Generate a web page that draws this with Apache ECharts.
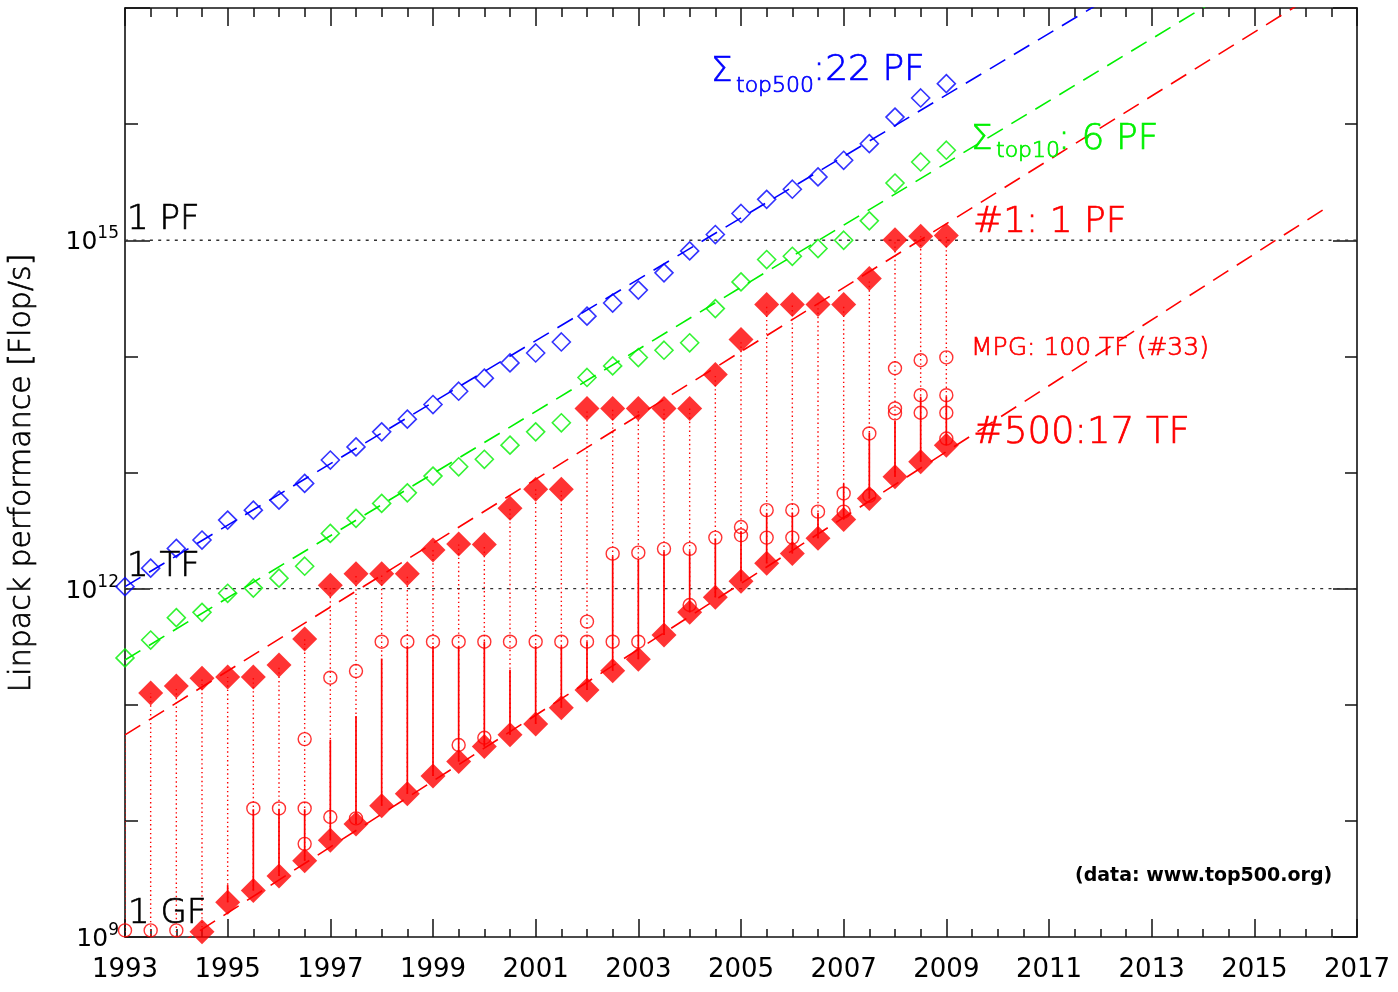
<!DOCTYPE html>
<html><head><meta charset="utf-8">
<script src="https://cdn.jsdelivr.net/npm/echarts@6/dist/echarts.min.js"></script>
<style>html,body{margin:0;padding:0;background:#fff}#c{width:1398px;height:992px}</style>
</head><body><div id="c"></div>
<script>
// TOP500 list dates (June / November)
const LISTS = [1993.0,1993.5,1994.0,1994.5,1995.0,1995.5,1996.0,1996.5,1997.0,1997.5,1998.0,1998.5,1999.0,1999.5,2000.0,2000.5,2001.0,2001.5,2002.0,2002.5,2003.0,2003.5,2004.0,2004.5,2005.0,2005.5,2006.0,2006.5,2007.0,2007.5,2008.0,2008.5,2009.0];
// Sum of all 500 systems [Flop/s]
const SUM_TOP500 = [1.04e12,1.50e12,2.22e12,2.62e12,3.89e12,4.74e12,5.78e12,8.05e12,1.28e13,1.66e13,2.24e13,2.88e13,3.85e13,5.01e13,6.49e13,8.79e13,1.07e14,1.33e14,2.22e14,2.88e14,3.72e14,5.24e14,8.09e14,1.12e15,1.70e15,2.25e15,2.75e15,3.51e15,4.88e15,6.79e15,1.15e16,1.68e16,2.23e16];
// Sum of the top 10 systems
const SUM_TOP10 = [2.53e11,3.61e11,5.62e11,6.25e11,9.12e11,1.01e12,1.23e12,1.56e12,2.99e12,4.03e12,5.42e12,6.68e12,9.31e12,1.12e13,1.30e13,1.72e13,2.24e13,2.68e13,6.58e13,8.28e13,9.77e13,1.13e14,1.31e14,2.58e14,4.38e14,6.82e14,7.28e14,8.49e14,1.00e15,1.47e15,3.11e15,4.72e15,5.96e15];
// #1 system
const RANK1 = [null,1.26e11,1.45e11,1.69e11,1.73e11,1.73e11,2.20e11,3.68e11,1.07e12,1.34e12,1.34e12,1.34e12,2.15e12,2.42e12,2.40e12,4.91e12,7.19e12,7.19e12,3.56e13,3.56e13,3.56e13,3.56e13,3.56e13,6.98e13,1.40e14,2.80e14,2.80e14,2.80e14,2.80e14,4.68e14,1.01e15,1.08e15,1.10e15];
// #500 system
const RANK500 = [4.2e8,4.7e8,5.0e8,1.11e9,1.99e9,2.51e9,3.35e9,4.54e9,6.81e9,9.42e9,1.35e10,1.71e10,2.44e10,3.25e10,4.37e10,5.51e10,6.84e10,9.44e10,1.34e11,1.96e11,2.47e11,3.99e11,6.25e11,8.41e11,1.16e12,1.65e12,2.01e12,2.71e12,3.94e12,5.98e12,9.18e12,1.24e13,1.72e13];
// level up to which the 500 entries of a list merge into a solid bar
const DENSE_TOP = [null,null,null,null,2.8e9,1.26e10,1.26e10,1.26e10,5.0e10,8.0e10,2.5e11,3.2e11,3.2e11,3.2e11,3.5e11,2.0e11,3.2e11,3.2e11,3.5e11,1.9e12,1.8e12,2.1e12,2.1e12,2.7e12,3.1e12,4.5e12,4.5e12,4.5e12,8.0e12,2.2e13,2.8e13,4.5e13,4.5e13];
// top of the spread for the June 1993 list (no #1 marker drawn)
const FIRST_LIST_TOP = 5.5e10;
// MPG systems in the lists
const MPG = [[1993.0,1.14e9],[1993.5,1.14e9],[1994.0,1.14e9],
 [1995.5,1.28e10],[1996.0,1.28e10],
 [1996.5,5.06e10],[1996.5,1.28e10],[1996.5,6.34e9],
 [1997.0,1.71e11],[1997.0,1.08e10],[1997.5,1.95e11],[1997.5,1.05e10],
 [1998.0,3.49e11],[1998.5,3.49e11],[1999.0,3.49e11],[1999.5,3.49e11],[1999.5,4.5e10],
 [2000.0,3.49e11],[2000.0,5.2e10],[2000.5,3.49e11],[2001.0,3.49e11],[2001.5,3.49e11],
 [2002.0,3.49e11],[2002.0,5.2e11],[2002.5,3.49e11],[2002.5,2.0e12],[2003.0,3.49e11],[2003.0,2.04e12],
 [2003.5,2.2e12],[2004.0,2.2e12],[2004.0,7.23e11],[2004.5,2.75e12],
 [2005.0,3.39e12],[2005.0,2.88e12],[2005.5,4.74e12],[2005.5,2.75e12],[2006.0,4.74e12],[2006.0,2.75e12],
 [2006.5,4.6e12],[2007.0,6.6e12],[2007.0,4.6e12],[2007.5,2.17e13],[2007.5,6.3e12],
 [2008.0,7.9e13],[2008.0,3.56e13],[2008.0,3.23e13],
 [2008.5,9.27e13],[2008.5,4.63e13],[2008.5,3.27e13],
 [2009.0,9.8e13],[2009.0,4.63e13],[2009.0,3.27e13],[2009.0,1.96e13]];
// exponential trend fits (end points)
const FIT_SUM500 = [[1993,1.04e12],[2013,2.04e17]];
const FIT_SUM10 = [[1993,2.43e11],[2015,1.86e17]];
const FIT_RANK1 = [[1993,5.5e10],[2017,2.2e17]];
const FIT_RANK500 = [[1994,8.4e8],[2016.38,1.875e15]];
// reference levels
const REF_LEVELS = [1e12, 1e15];
// axis ticks
const X_LABELS = [1993,1995,1997,1999,2001,2003,2005,2007,2009,2011,2013,2015,2017];
const Y_LABELS = [1e9, 1e12, 1e15];
const X_MINOR = []; for (let t = 1993; t <= 2017; t += 0.5) X_MINOR.push(t);

const FONT = 'DejaVu Sans';
const RED = '#ff0000', BLUE = '#0000ff', GREEN = '#00f000';

function xAx(pos, ticks, len, line, label) {
  return {type:'value', min:1993, max:2017, position:pos,
    axisLine:{show:line, onZero:false, lineStyle:{color:'#111', width:1.6}},
    axisTick:{show:true, inside:true, length:len, customValues:ticks, lineStyle:{color:'#111', width:1.5}},
    axisLabel:label ? {show:true, customValues:ticks, color:'#000', fontFamily:FONT, fontSize:26, margin:20,
      formatter:v => String(Math.round(v))} : {show:false},
    splitLine:{show:false}, minorTick:{show:false}};
}
function yAx(pos, interval, len, line, label) {
  return {type:'log', logBase:10, min:1e9, max:1e17, interval:interval, position:pos,
    axisLine:{show:line, onZero:false, lineStyle:{color:'#111', width:1.6}},
    axisTick:{show:true, inside:true, length:len, lineStyle:{color:'#111', width:1.5}},
    axisLabel:label ? {show:true, margin:6, color:'#000', fontFamily:FONT,
      formatter:v => Y_LABELS.some(l => Math.abs(Math.log10(l) - Math.log10(v)) < 1e-6)
        ? '{b|10}{s|' + Math.round(Math.log10(v)) + '}' : '',
      rich:{b:{fontSize:25, fontFamily:FONT, color:'#000', lineHeight:30, verticalAlign:'bottom'},
            s:{fontSize:17, fontFamily:FONT, color:'#000', lineHeight:17, verticalAlign:'top'}}} : {show:false},
    splitLine:{show:false}, minorTick:{show:false}};
}

const spread = LISTS.map((t,i) => {
  const lo = RANK500[i];
  const dense = DENSE_TOP[i] == null ? lo : DENSE_TOP[i];
  const top = RANK1[i] == null ? FIRST_LIST_TOP : RANK1[i];
  return [t, lo, dense, top];
});

function dashed(data, color) {
  return {type:'line', data:data, symbol:'none', silent:true, clip:true, z:3,
    lineStyle:{color:color, width:1.6, type:[18,10]}};
}
const LIGHT = '300 ';
function label(x, y, text, size, color, extra) {
  return Object.assign({type:'text', x:x, y:y, z:100,
    style:{text:text, font:LIGHT + size + 'px "DejaVu Sans"', fill:color, stroke:color, lineWidth:0.7, verticalAlign:'middle'}}, extra || {});
}

const option = {
  backgroundColor:'#fff',
  animation:false,
  grid:{left:125, right:41, top:8, bottom:55, containLabel:false, outerBoundsMode:'none'},
  xAxis:[xAx('bottom', X_LABELS, 18, true, true), xAx('bottom', X_MINOR, 8, false, false),
         xAx('top', X_LABELS, 18, true, false), xAx('top', X_MINOR, 9, false, false)],
  yAxis:[yAx('left', 3, 25, true, true), yAx('left', 1, 13, false, false),
         yAx('right', 3, 24, true, false), yAx('right', 1, 12, false, false)],
  series:[
    ...REF_LEVELS.map(v => ({type:'line', data:[[1993,v],[2017,v]], symbol:'none', silent:true, z:1,
      lineStyle:{color:'#333', width:1.3, type:[3,5.3]}})),
    {type:'custom', clip:true, z:2, silent:true, data:spread,
      renderItem:(params, api) => {
        const x = api.value(0);
        const pLo = api.coord([x, api.value(1)]);
        const pMid = api.coord([x, api.value(2)]);
        const pTop = api.coord([x, api.value(3)]);
        return {type:'group', children:[
          {type:'line', shape:{x1:pLo[0], y1:pLo[1], x2:pTop[0], y2:pTop[1]},
            style:{stroke:RED, lineWidth:1.4, lineDash:[1.4,3]}},
          {type:'line', shape:{x1:pLo[0], y1:pLo[1], x2:pMid[0], y2:pMid[1]},
            style:{stroke:RED, lineWidth:1.7}}
        ]};
      }},
    dashed(FIT_SUM500, BLUE), dashed(FIT_SUM10, GREEN), dashed(FIT_RANK1, RED), dashed(FIT_RANK500, RED),
    {type:'scatter', data:LISTS.map((t,i)=>[t,SUM_TOP500[i]]), symbol:'diamond', symbolSize:18, z:5,
      itemStyle:{color:'rgba(0,0,0,0)', borderColor:BLUE, borderWidth:1.6}},
    {type:'scatter', data:LISTS.map((t,i)=>[t,SUM_TOP10[i]]), symbol:'diamond', symbolSize:18, z:5,
      itemStyle:{color:'rgba(0,0,0,0)', borderColor:GREEN, borderWidth:1.6}},
    {type:'scatter', data:LISTS.map((t,i)=>[t,RANK1[i]]).filter(d=>d[1]!=null), symbol:'diamond', symbolSize:25, z:6,
      itemStyle:{color:RED}},
    {type:'scatter', data:LISTS.map((t,i)=>[t,RANK500[i]]), symbol:'diamond', symbolSize:25, z:6,
      itemStyle:{color:RED}},
    {type:'scatter', data:MPG, symbol:'circle', symbolSize:13, z:7,
      itemStyle:{color:'rgba(0,0,0,0)', borderColor:RED, borderWidth:1.4}}
  ],
  graphic:[
    label(22, 473, 'Linpack performance [Flop/s]', 30, '#000', {rotation:Math.PI/2}),
    label(127, 220, '1 PF', 34, '#000'),
    label(127, 567, '1 TF', 34, '#000'),
    label(128, 914, '1 GF', 34, '#000'),
    label(711, 72, 'Σ', 34, BLUE),
    label(736, 86, 'top500', 22, BLUE),
    label(813, 71, ':22 PF', 36, BLUE),
    label(971, 140, 'Σ', 34, GREEN),
    label(996, 151, 'top10', 22, GREEN),
    label(1058, 140, ': 6 PF', 36, GREEN),
    label(973, 223, '#1: 1 PF', 36, RED),
    label(971, 348, 'MPG: 100 TF (#33)', 25, RED),
    label(973, 433, '#500:17 TF', 37, RED),
    {type:'text', x:1075, y:876, z:100, style:{text:'(data: www.top500.org)', font:'bold 19px "DejaVu Sans"', fill:'#000', verticalAlign:'middle'}}
  ]
};
option.graphic[0].style.align = 'center';
const chart = echarts.init(document.getElementById('c'), null, {renderer:'canvas'});
chart.setOption(option);
</script></body></html>
